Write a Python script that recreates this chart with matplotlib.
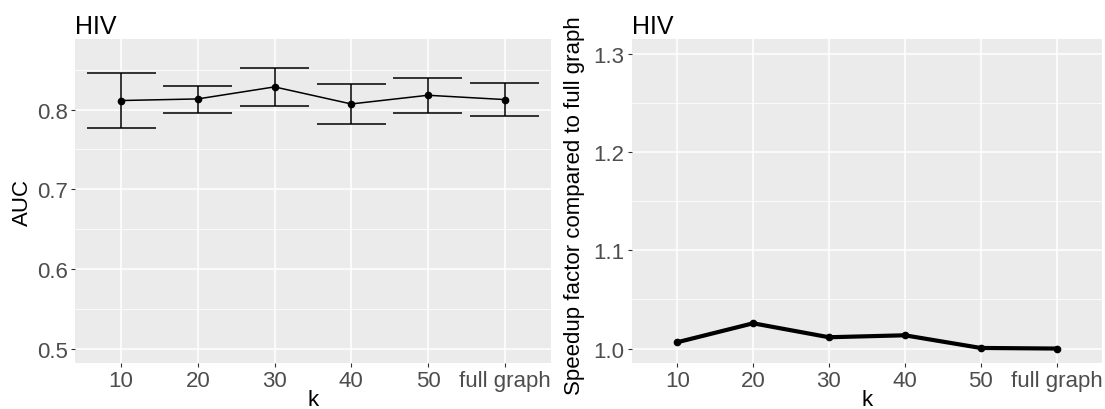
import matplotlib
matplotlib.use("Agg")
import matplotlib.pyplot as plt
import numpy as np

plt.rcParams['font.family'] = ['Liberation Sans', 'DejaVu Sans']

# data
k_labels = ['10', '20', '30', '40', '50', 'full graph']
auc_mean = [0.8113, 0.8133, 0.8284, 0.8070, 0.8179, 0.8125]
auc_upper = [0.8459, 0.8296, 0.8527, 0.8321, 0.8396, 0.8334]
auc_lower = [0.7765, 0.7962, 0.8041, 0.7820, 0.7962, 0.7920]
speedup = [1.0064, 1.0257, 1.0115, 1.0135, 1.0006, 1.0000]

panel_bg = '#EBEBEB'
tick_col = '#4D4D4D'


def gg_style(ax, ylim, major, minor):
    ax.set_facecolor(panel_bg)
    for s in ax.spines.values():
        s.set_visible(False)
    lo, hi = ylim
    pad = (hi - lo) * 0.05
    ax.set_ylim(lo - pad, hi + pad)
    ax.set_xlim(0.4, len(k_labels) + 0.6)
    ax.set_yticks(major)
    ax.set_yticks(minor, minor=True)
    ax.set_xticks(np.arange(1, len(k_labels) + 1))
    ax.set_xticklabels(k_labels)
    ax.grid(which='major', color='white', linewidth=1.1)
    ax.grid(which='minor', axis='y', color='white', linewidth=0.55)
    ax.set_axisbelow(True)
    ax.tick_params(which='major', length=2.6, width=0.8, color='#333333',
                   labelcolor=tick_col, labelsize=16, pad=2.5)
    ax.tick_params(which='minor', length=0)
    ax.set_title('HIV', loc='left', fontsize=18, pad=4)
    ax.set_xlabel('k', fontsize=16, labelpad=-1.5)


fig = plt.figure(figsize=(11.05, 4.1), dpi=100)
ax1 = fig.add_axes([0.0679, 0.1115, 0.4305, 0.7909])
ax2 = fig.add_axes([0.5717, 0.1115, 0.4256, 0.7909])

x = np.arange(1, len(k_labels) + 1)

# left: AUC with error bars
gg_style(ax1, (0.5, 0.87), [0.5, 0.6, 0.7, 0.8], [0.55, 0.65, 0.75, 0.85])
ax1.vlines(x, auc_lower, auc_upper, color='black', linewidth=1.1, zorder=3)
ax1.hlines(auc_upper, x - 0.45, x + 0.45, color='black', linewidth=1.1, zorder=3)
ax1.hlines(auc_lower, x - 0.45, x + 0.45, color='black', linewidth=1.1, zorder=3)
ax1.plot(x, auc_mean, color='black', linewidth=1.1, marker='o', markersize=4.5, zorder=4)
ax1.set_yticklabels(['0.5', '0.6', '0.7', '0.8'])
ax1.set_ylabel('AUC', fontsize=16)
ax1.yaxis.set_label_coords(-0.111, 0.5)
ax1.yaxis.label.set_verticalalignment('center')

# right: speedup
gg_style(ax2, (1.0, 1.3), [1.0, 1.1, 1.2, 1.3], [1.05, 1.15, 1.25])
ax2.plot(x, speedup, color='black', linewidth=3, marker='o', markersize=4.5,
         solid_capstyle='butt', zorder=4)
ax2.set_yticklabels(['1.0', '1.1', '1.2', '1.3'])
ax2.set_ylabel('Speedup factor compared to full graph', fontsize=16)
ax2.yaxis.set_label_coords(-0.1227, 0.49)
ax2.yaxis.label.set_verticalalignment('center')

fig.savefig('out.png', dpi=100)
